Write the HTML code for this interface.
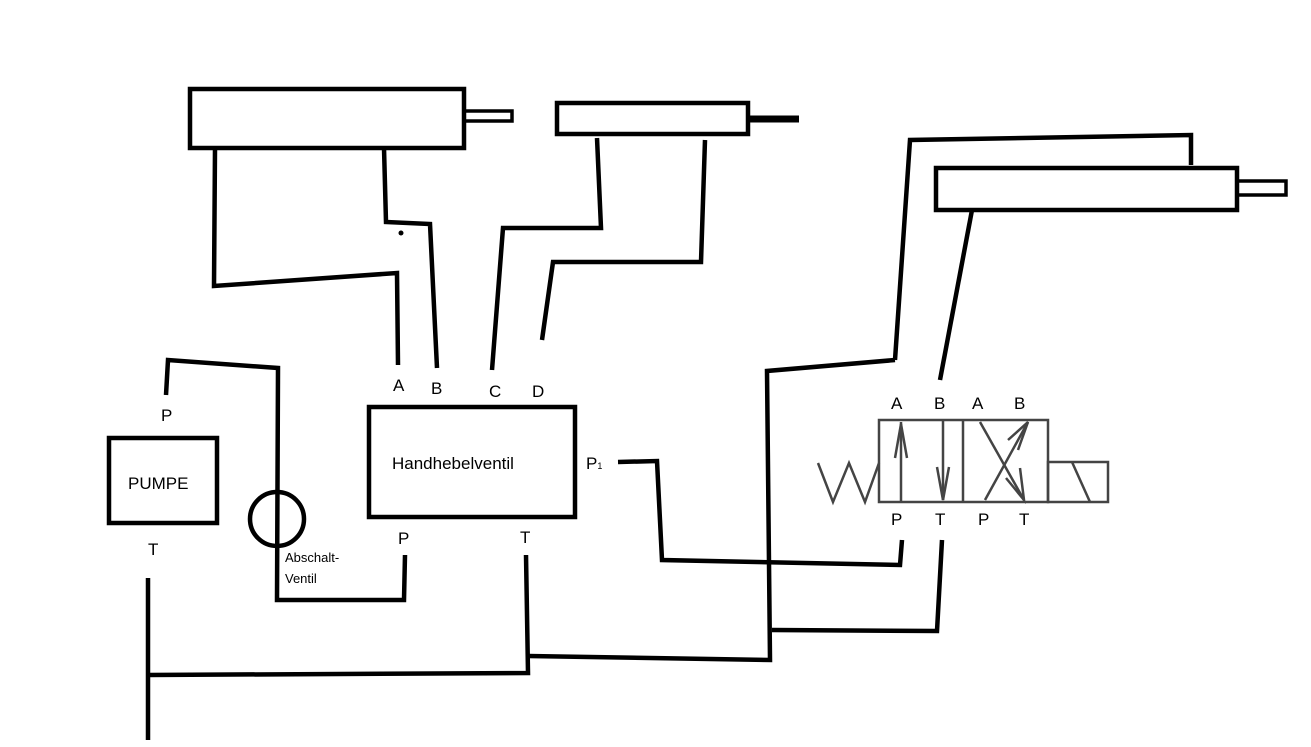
<!DOCTYPE html>
<html><head><meta charset="utf-8"><style>
html,body{margin:0;padding:0;background:#fff;}
svg{display:block;}
text{font-family:"Liberation Sans",sans-serif;fill:#000;}
</style></head><body>
<svg width="1311" height="747" viewBox="0 0 1311 747" xmlns="http://www.w3.org/2000/svg">
<g fill="none" stroke="#000" stroke-width="4.5" stroke-linejoin="miter">
<!-- cylinders -->
<rect x="190" y="89" width="274" height="59"/>
<rect x="464" y="111" width="48" height="10" stroke-width="3.5"/>
<rect x="557" y="103" width="191" height="31"/>
<line x1="748" y1="119" x2="799" y2="119" stroke-width="7"/>
<rect x="936" y="168" width="301" height="42"/>
<rect x="1237" y="181" width="49" height="14" stroke-width="3.5"/>
<!-- connections -->
<polyline points="215,148 214,286 397,273 398,365"/>
<polyline points="384,148 386,222 430,224 437,368"/>
<polyline points="597,138 601,228 503,228 492,370"/>
<polyline points="705,140 701,262 553,262 542,340"/>
<polyline points="1191,165 1191,135 910,140 895,360"/>
<line x1="972" y1="210" x2="940" y2="380"/>
<polyline points="895,360 767,371 770,660 528,656"/>
<polyline points="526,555 528,673 148,675"/>
<line x1="148" y1="578" x2="148" y2="740"/>
<polyline points="618,462 657,461 662,560 900,565 902,540"/>
<polyline points="942,540 937,631 772,630"/>
<polyline points="166,395 168,360 278,368 277,600 404,600 405,555"/>
<circle cx="277" cy="519" r="27"/>
<rect x="109" y="438" width="108" height="85"/>
<rect x="369" y="407" width="206" height="110"/>
</g>
<circle cx="401" cy="233" r="2.5" fill="#000"/>
<!-- directional valve -->
<g fill="none" stroke="#444" stroke-width="2.5">
<rect x="879" y="420" width="169" height="82"/>
<line x1="963" y1="420" x2="963" y2="502"/>
<rect x="1048" y="462" width="60" height="40"/>
<line x1="1072" y1="462" x2="1090" y2="502"/>
<polyline points="818,463 833,502 849,463 865,502 879,463"/>
<line x1="901" y1="422" x2="901" y2="502"/>
<polyline points="895,458 901,424 907,458"/>
<line x1="943" y1="420" x2="943" y2="500"/>
<polyline points="937,467 943,500 949,467"/>
<line x1="985" y1="500" x2="1028" y2="422"/>
<polyline points="1008,440 1028,422 1018,450"/>
<line x1="980" y1="422" x2="1024" y2="500"/>
<polyline points="1006,478 1024,500 1020,468"/>
</g>
<g font-size="17">
<text x="393" y="391">A</text><text x="431" y="394">B</text>
<text x="489" y="397">C</text><text x="532" y="397">D</text>
<text x="161" y="421">P</text><text x="148" y="555">T</text>
<text x="398" y="544">P</text><text x="520" y="543">T</text>
<text x="586" y="469">P<tspan font-size="9">1</tspan></text>
<text x="891" y="409">A</text><text x="934" y="409">B</text>
<text x="972" y="409">A</text><text x="1014" y="409">B</text>
<text x="891" y="525">P</text><text x="935" y="525">T</text>
<text x="978" y="525">P</text><text x="1019" y="525">T</text>
<text x="128" y="489">PUMPE</text>
<text x="392" y="469">Handhebelventil</text>
</g>
<text x="285" y="562" font-size="13">Abschalt-</text>
<text x="285" y="583" font-size="13">Ventil</text>
</svg>
</body></html>
